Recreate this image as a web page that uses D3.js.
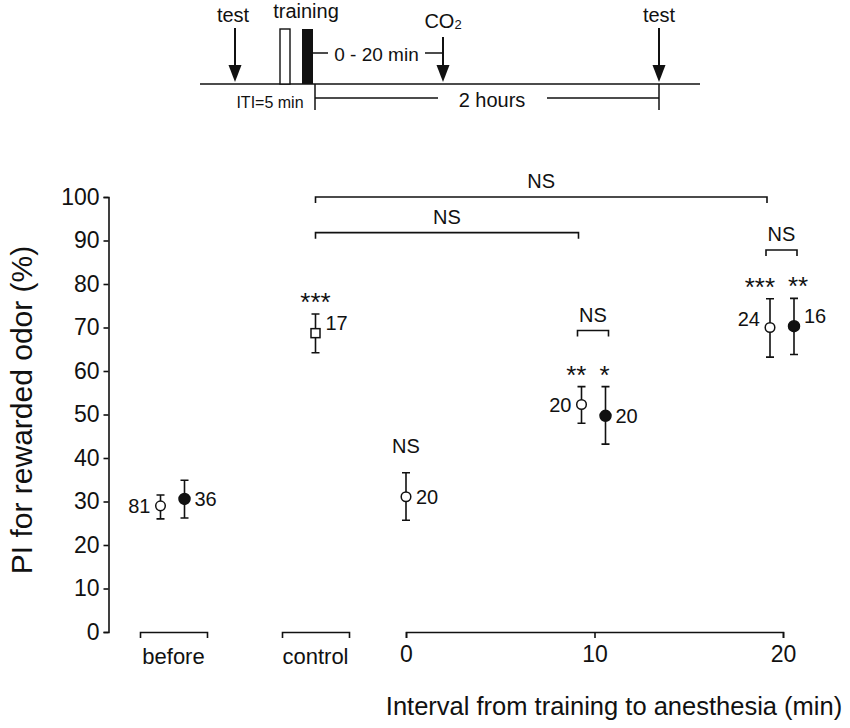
<!DOCTYPE html>
<html>
<head>
<meta charset="utf-8">
<script src="https://cdn.jsdelivr.net/npm/d3@7"></script>
<style>
  body { margin: 0; background: #fff; }
  svg { display: block; }
  text { font-family: "Liberation Sans", Arial, sans-serif; fill: #111; }
  .axis path, .axis line { stroke: #111; stroke-width: 1.6; }
  .axis text { font-family: "Liberation Sans", Arial, sans-serif; fill: #111; }
</style>
</head>
<body>
<svg id="chart" width="850" height="728"></svg>
<script>
// Points, left to right
const pointGroup  = ['before', 'before', 'control', 0, 10, 10, 20, 20];
const pointSymbol = ['open', 'filled', 'square', 'open', 'open', 'filled', 'open', 'filled'];
const pointMean   = [29.0, 30.6, 68.7, 31.1, 52.3, 49.7, 70.0, 70.3];
const pointUpper  = [31.5, 34.9, 73.1, 36.6, 56.4, 56.4, 76.6, 76.7];
const pointLower  = [26.0, 26.2, 64.2, 25.7, 48.0, 43.2, 63.2, 63.8];
const pointN      = [81, 36, 17, 20, 20, 20, 24, 16];
const pointSig    = ['', '', '***', 'NS', '**', '*', '***', '**'];

// Pairwise comparisons (indexes into the points) and their bar heights
const compA     = [2, 2, 4, 6];
const compB     = [6, 4, 5, 7];
const compLevel = [100, 91.8, 69.3, 87.8];
const compLabel = ['NS', 'NS', 'NS', 'NS'];

const categories = ['before', 'control'];
const minuteTicks = [0, 10, 20];
const yTicks = d3.range(0, 101, 10);

// label placement
const nSide  = ['left', 'right', 'right', 'right', 'left', 'right', 'left', 'right'];
const nNudge = [0, 0, -10, 0, 0, 0, -9, -10];
const symbolShift = {open: -13, filled: 11, square: 0};

var svg = d3.select('#chart');

var y = d3.scaleLinear().domain([0, 100]).range([632, 197]);
var xMin = d3.scaleLinear().domain([0, 20]).range([406, 783]);
var xCat = d3.scaleOrdinal().domain(categories).range([173.5, 315.5]);
var catHalf = 33.5;

function isPair(i) {
  return pointGroup.filter(d => d === pointGroup[i]).length > 1;
}

function xPos(i) {
  let g = pointGroup[i];
  let base = (typeof g === 'number') ? xMin(g) : xCat(g);
  return base + (isPair(i) ? symbolShift[pointSymbol[i]] : 0);
}

// ---- schematic on top ----
var sch = svg.append('g').attr('class', 'schematic');

sch.append('line').attr('x1', 200).attr('x2', 700).attr('y1', 84).attr('y2', 84)
  .attr('stroke', '#111').attr('stroke-width', 1.6);

function arrow(x, y0, y1) {
  sch.append('line').attr('x1', x).attr('x2', x).attr('y1', y0).attr('y2', y1 - 12)
    .attr('stroke', '#111').attr('stroke-width', 2);
  sch.append('path')
    .attr('d', 'M' + (x - 6.5) + ',' + (y1 - 17) + 'L' + (x + 6.5) + ',' + (y1 - 17) + 'L' + x + ',' + y1 + 'Z')
    .attr('fill', '#111');
}
arrow(235, 28, 82);
arrow(443, 37, 82);
arrow(659, 28, 82);

sch.append('text').attr('x', 233).attr('y', 22).attr('text-anchor', 'middle')
  .style('font-size', '20px').text('test');
sch.append('text').attr('x', 659).attr('y', 22).attr('text-anchor', 'middle')
  .style('font-size', '20px').text('test');
sch.append('text').attr('x', 306).attr('y', 18).attr('text-anchor', 'middle')
  .style('font-size', '20px').text('training');

var co2 = sch.append('text').attr('x', 443).attr('y', 28).attr('text-anchor', 'middle')
  .style('font-size', '20px');
co2.append('tspan').text('CO');
co2.append('tspan').style('font-size', '13px').attr('dy', 1).text('2');

sch.append('rect').attr('x', 280).attr('y', 29).attr('width', 10).attr('height', 55)
  .attr('fill', '#fff').attr('stroke', '#111').attr('stroke-width', 1.4);
sch.append('rect').attr('x', 302).attr('y', 29).attr('width', 11).attr('height', 55)
  .attr('fill', '#111');

sch.append('line').attr('x1', 313).attr('x2', 328).attr('y1', 53).attr('y2', 53)
  .attr('stroke', '#111').attr('stroke-width', 1.5);
sch.append('line').attr('x1', 425).attr('x2', 443).attr('y1', 53).attr('y2', 53)
  .attr('stroke', '#111').attr('stroke-width', 1.5);
sch.append('text').attr('x', 376.5).attr('y', 61).attr('text-anchor', 'middle')
  .style('font-size', '19px').text('0 - 20 min');

sch.append('line').attr('x1', 315).attr('x2', 315).attr('y1', 84).attr('y2', 110)
  .attr('stroke', '#111').attr('stroke-width', 1.5);
sch.append('line').attr('x1', 659).attr('x2', 659).attr('y1', 84).attr('y2', 110)
  .attr('stroke', '#111').attr('stroke-width', 1.5);
sch.append('line').attr('x1', 315).attr('x2', 438).attr('y1', 98).attr('y2', 98)
  .attr('stroke', '#111').attr('stroke-width', 1.5);
sch.append('line').attr('x1', 547).attr('x2', 659).attr('y1', 98).attr('y2', 98)
  .attr('stroke', '#111').attr('stroke-width', 1.5);
sch.append('text').attr('x', 492).attr('y', 107).attr('text-anchor', 'middle')
  .style('font-size', '20px').text('2 hours');
sch.append('text').attr('x', 270).attr('y', 108).attr('text-anchor', 'middle')
  .style('font-size', '16px').text('ITI=5 min');

// ---- axes ----
svg.append('g')
  .attr('class', 'axis')
  .attr('transform', 'translate(108.5,0)')
  .call(d3.axisLeft(y).tickValues(yTicks).tickSizeOuter(0).tickSize(5).tickPadding(4))
  .selectAll('text').style('font-size', '23px');

svg.append('text')
  .attr('transform', 'translate(32,410) rotate(-90)')
  .attr('text-anchor', 'middle')
  .style('font-size', '30px')
  .text('PI for rewarded odor (%)');

// category brackets (before / control)
categories.forEach(c => {
  let s = d3.scaleLinear().domain([0, 1]).range([xCat(c) - catHalf, xCat(c) + catHalf]);
  svg.append('g')
    .attr('class', 'axis')
    .attr('transform', 'translate(0,632)')
    .call(d3.axisBottom(s).tickValues([]).tickSizeOuter(6));
  svg.append('text')
    .attr('x', xCat(c)).attr('y', 664)
    .attr('text-anchor', 'middle')
    .style('font-size', '22px')
    .text(c);
});

// minutes axis
svg.append('g')
  .attr('class', 'axis')
  .attr('transform', 'translate(0,632)')
  .call(d3.axisBottom(xMin).tickValues(minuteTicks).tickSize(6).tickSizeOuter(6).tickPadding(8))
  .selectAll('text').style('font-size', '23px');

svg.append('text')
  .attr('x', 614).attr('y', 715)
  .attr('text-anchor', 'middle')
  .style('font-size', '25.5px')
  .text('Interval from training to anesthesia (min)');

// ---- comparison brackets ----
var comps = compA.map((a, i) => ({a: a, b: compB[i], level: compLevel[i], label: compLabel[i]}));

function bracketEnds(d) {
  let x0 = xPos(d.a) + (pointSymbol[d.a] === 'square' ? 0 : -4);
  let x1 = xPos(d.b) + (pointSymbol[d.b] === 'filled' ? 3 : -3);
  return [x0, x1];
}

var cg = svg.selectAll('g.comp').data(comps).enter().append('g').attr('class', 'comp');
cg.append('path')
  .attr('d', d => {
    let e = bracketEnds(d), yy = y(d.level);
    return 'M' + e[0] + ',' + (yy + 6) + 'V' + yy + 'H' + e[1] + 'V' + (yy + 6);
  })
  .attr('fill', 'none').attr('stroke', '#111').attr('stroke-width', 1.6);
cg.append('text')
  .attr('x', d => d3.mean(bracketEnds(d)))
  .attr('y', d => y(d.level) - 9)
  .attr('text-anchor', 'middle')
  .style('font-size', '20px')
  .text(d => d.label);

// ---- points ----
var pts = pointMean.map((m, i) => ({
  i: i, mean: m, hi: pointUpper[i], lo: pointLower[i], n: pointN[i],
  sym: pointSymbol[i], sig: pointSig[i], side: nSide[i], nudge: nNudge[i]
}));

var pg = svg.selectAll('g.pt').data(pts).enter().append('g').attr('class', 'pt');

pg.append('path')
  .attr('d', d => {
    let x = xPos(d.i), t = y(d.hi), b = y(d.lo);
    return 'M' + (x - 4) + ',' + t + 'H' + (x + 4) + 'M' + x + ',' + t + 'V' + b +
      'M' + (x - 4) + ',' + b + 'H' + (x + 4);
  })
  .attr('fill', 'none').attr('stroke', '#111').attr('stroke-width', 1.6);

pg.filter(d => d.sym !== 'square').append('circle')
  .attr('cx', d => xPos(d.i))
  .attr('cy', d => y(d.mean))
  .attr('r', d => d.sym === 'filled' ? 5.5 : 4.8)
  .attr('fill', d => d.sym === 'filled' ? '#111' : '#fff')
  .attr('stroke', '#111').attr('stroke-width', 1.5);

pg.filter(d => d.sym === 'square').append('rect')
  .attr('x', d => xPos(d.i) - 4.5)
  .attr('y', d => y(d.mean) - 4.5)
  .attr('width', 9).attr('height', 9)
  .attr('fill', '#fff').attr('stroke', '#111').attr('stroke-width', 1.5);

pg.append('text')
  .attr('x', d => xPos(d.i) + (d.side === 'left' ? -10 : 10))
  .attr('y', d => y(d.mean) + d.nudge)
  .attr('dy', '0.36em')
  .attr('text-anchor', d => d.side === 'left' ? 'end' : 'start')
  .style('font-size', '20px')
  .text(d => d.n);

// significance marks: in a pair, open one sits left, filled one right
pg.filter(d => d.sig !== '').append('text')
  .attr('x', d => {
    let x = xPos(d.i);
    if (!isPair(d.i)) return x;
    return d.sym === 'open' ? x + 5 : x - 6;
  })
  .attr('y', d => y(d.hi) - (d.sig === 'NS' ? 20 : 3))
  .attr('text-anchor', d => !isPair(d.i) ? 'middle' : (d.sym === 'open' ? 'end' : 'start'))
  .style('font-size', d => d.sig === 'NS' ? '20px' : '26px')
  .text(d => d.sig);
</script>
</body>
</html>
